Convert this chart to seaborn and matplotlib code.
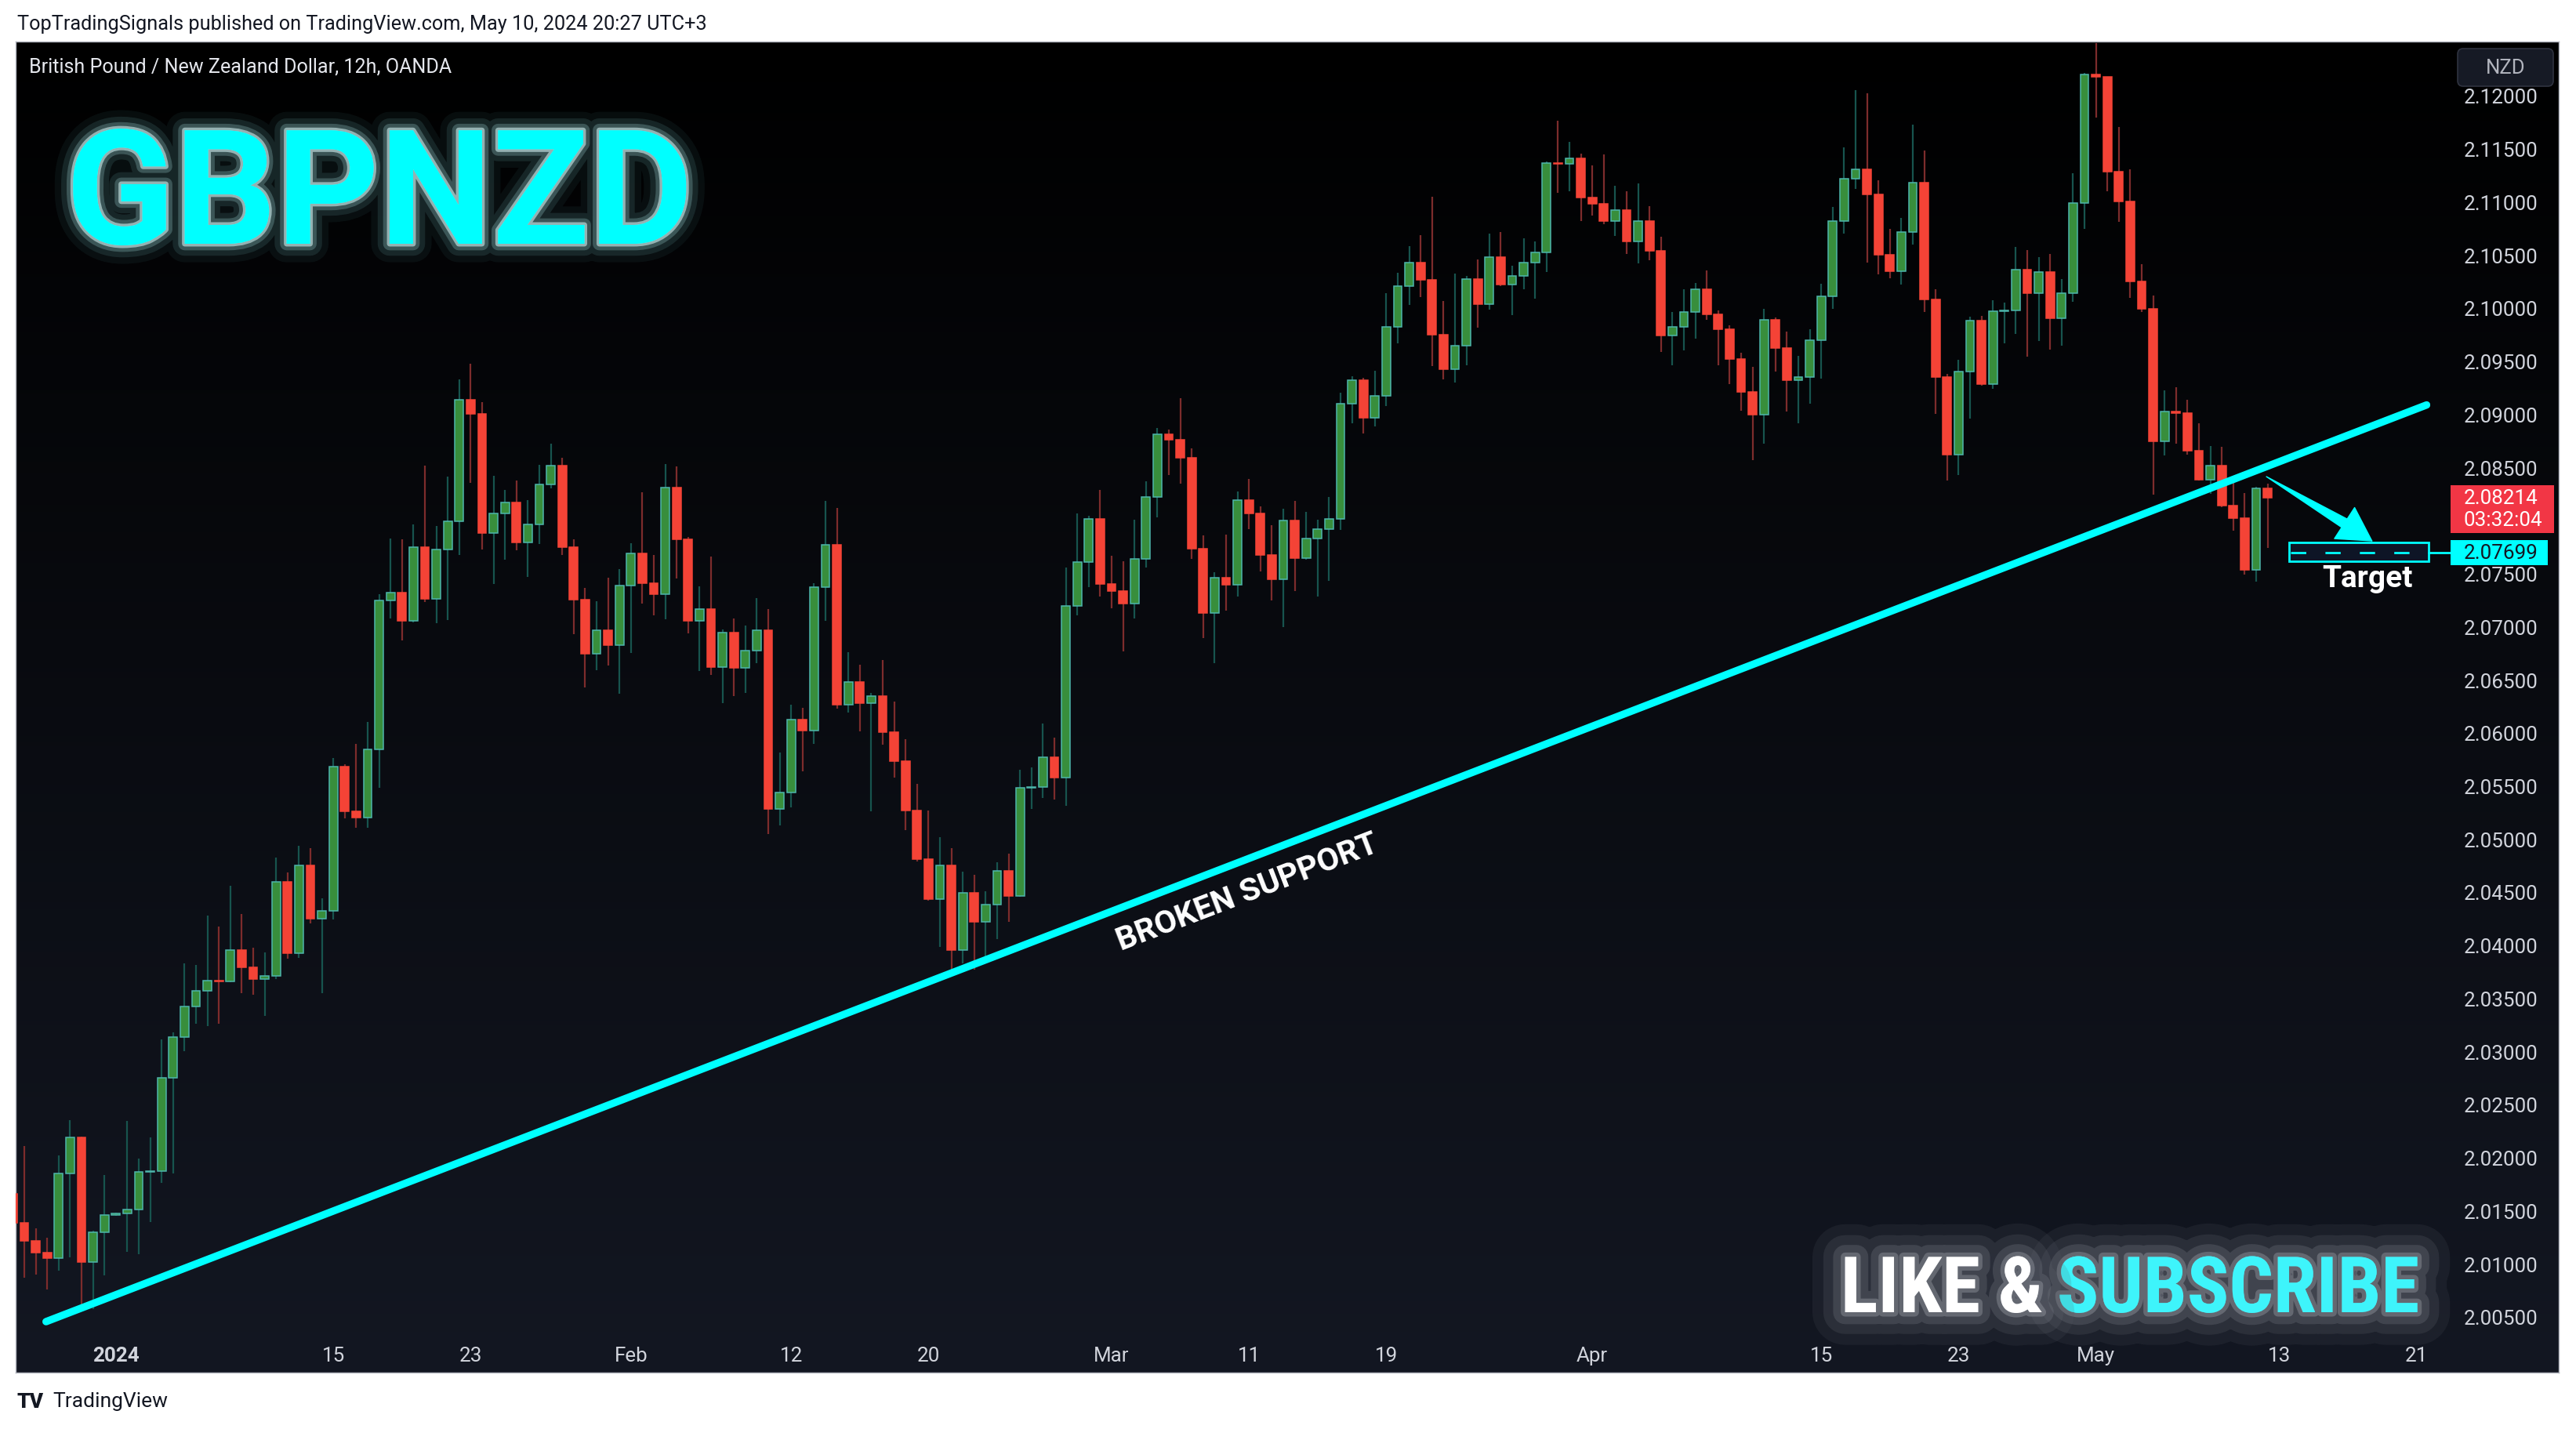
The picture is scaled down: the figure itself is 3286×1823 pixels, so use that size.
import numpy as np
import pandas as pd
import matplotlib
matplotlib.use("Agg")
import matplotlib.pyplot as plt
import matplotlib.transforms as mtransforms
from matplotlib import patheffects as pe
from matplotlib.patches import Rectangle, FancyBboxPatch
from matplotlib import font_manager
import seaborn as sns

# ---------------- data (12h candles, GBPNZD OANDA) ----------------
candle_index = list(range(-1, 197))
opens = [
    2.01659, 2.01381, 2.01212, 2.01104, 2.01049, 2.01849, 2.02188, 2.01015, 2.01297, 2.01459,
    2.01476, 2.01507, 2.01863, 2.01873, 2.02747, 2.03134, 2.03422, 2.03567, 2.03662, 2.03655,
    2.03950, 2.03794, 2.03679, 2.03713, 2.04594, 2.03927, 2.04747, 2.04252, 2.04326, 2.05679,
    2.05263, 2.05204, 2.05842, 2.07249, 2.07322, 2.07057, 2.07751, 2.07263, 2.07723, 2.07995,
    2.09137, 2.09005, 2.07883, 2.08068, 2.08172, 2.07793, 2.07960, 2.08336, 2.08514, 2.07751,
    2.07256, 2.06747, 2.06963, 2.06828, 2.07388, 2.07692, 2.07406, 2.07308, 2.08308, 2.07820,
    2.07054, 2.07168, 2.06615, 2.06941, 2.06609, 2.06770, 2.06963, 2.05285, 2.05434, 2.06127,
    2.06024, 2.07370, 2.07768, 2.06261, 2.06475, 2.06276, 2.06348, 2.06003, 2.05729, 2.05266,
    2.04813, 2.04431, 2.04747, 2.03952, 2.04490, 2.04219, 2.04378, 2.04698, 2.04462, 2.05478,
    2.05487, 2.05767, 2.05574, 2.07192, 2.07611, 2.08012, 2.07403, 2.07332, 2.07218, 2.07635,
    2.08218, 2.08813, 2.08758, 2.08592, 2.07730, 2.07124, 2.07458, 2.07395, 2.08189, 2.08067,
    2.07677, 2.07448, 2.08001, 2.07648, 2.07830, 2.07914, 2.08012, 2.09095, 2.09317, 2.08969,
    2.09169, 2.09820, 2.10204, 2.10425, 2.10268, 2.09751, 2.09426, 2.09647, 2.10270, 2.10034,
    2.10482, 2.10218, 2.10305, 2.10430, 2.10526, 2.11368, 2.11360, 2.11412, 2.11038, 2.10979,
    2.10816, 2.10920, 2.10629, 2.10821, 2.10541, 2.09738, 2.09820, 2.09960, 2.10174, 2.09938,
    2.09798, 2.09517, 2.09207, 2.08992, 2.09892, 2.09620, 2.09317, 2.09353, 2.09693, 2.10108,
    2.10819, 2.11221, 2.11308, 2.11066, 2.10499, 2.10344, 2.10713, 2.11183, 2.10082, 2.09348,
    2.08616, 2.09399, 2.09879, 2.09282, 2.09968, 2.09975, 2.10359, 2.10138, 2.10336, 2.09902,
    2.10136, 2.10985, 2.12196, 2.12180, 2.11285, 2.11000, 2.10247, 2.09993, 2.08745, 2.09027,
    2.09010, 2.08653, 2.08384, 2.08518, 2.08137, 2.08024, 2.07532, 2.08299,
]
highs = [
    2.01720, 2.02110, 2.01331, 2.01246, 2.02019, 2.02351, 2.02195, 2.01307, 2.01832, 2.01480,
    2.02344, 2.01991, 2.02191, 2.03110, 2.03178, 2.03828, 2.03815, 2.04279, 2.04174, 2.04560,
    2.04293, 2.03977, 2.03930, 2.04825, 2.04686, 2.04936, 2.04913, 2.04442, 2.05763, 2.05706,
    2.05894, 2.06103, 2.07308, 2.07831, 2.07820, 2.07963, 2.08517, 2.07946, 2.08413, 2.09329,
    2.09475, 2.09113, 2.08420, 2.08287, 2.08374, 2.08190, 2.08524, 2.08723, 2.08590, 2.07820,
    2.07364, 2.07239, 2.07462, 2.07542, 2.07786, 2.08266, 2.07674, 2.08531, 2.08507, 2.07845,
    2.07379, 2.07659, 2.06969, 2.07078, 2.07009, 2.07267, 2.07165, 2.05813, 2.06264, 2.06236,
    2.07407, 2.08184, 2.08119, 2.06758, 2.06640, 2.06372, 2.06686, 2.06295, 2.05941, 2.05518,
    2.05269, 2.05018, 2.04915, 2.04692, 2.04664, 2.04508, 2.04782, 2.04863, 2.05652, 2.05673,
    2.06087, 2.05953, 2.07556, 2.08065, 2.08041, 2.08286, 2.07667, 2.07614, 2.08007, 2.08368,
    2.08869, 2.08853, 2.09151, 2.08681, 2.07856, 2.07511, 2.07867, 2.08273, 2.08389, 2.08131,
    2.07954, 2.08107, 2.08181, 2.08080, 2.08007, 2.08220, 2.09201, 2.09356, 2.09341, 2.09409,
    2.10140, 2.10332, 2.10583, 2.10686, 2.11048, 2.10066, 2.10324, 2.10302, 2.10457, 2.10701,
    2.10716, 2.10396, 2.10656, 2.10627, 2.11378, 2.11760, 2.11565, 2.11454, 2.11343, 2.11446,
    2.11151, 2.11099, 2.11173, 2.10959, 2.10669, 2.09962, 2.10177, 2.10236, 2.10354, 2.09975,
    2.09837, 2.09578, 2.09444, 2.09991, 2.09910, 2.09777, 2.09548, 2.09800, 2.10227, 2.10952,
    2.11511, 2.12052, 2.12019, 2.11201, 2.10748, 2.10845, 2.11724, 2.11483, 2.10176, 2.09376,
    2.09510, 2.09915, 2.09922, 2.10070, 2.10052, 2.10575, 2.10545, 2.10479, 2.10509, 2.10273,
    2.11269, 2.12213, 2.12509, 2.12180, 2.11701, 2.11306, 2.10412, 2.10117, 2.09227, 2.09254,
    2.09137, 2.08917, 2.08701, 2.08690, 2.08412, 2.08254, 2.08316, 2.08343,
]
lows = [
    2.01360, 2.00866, 2.00900, 2.00755, 2.00931, 2.01059, 2.00568, 2.00575, 2.00890, 2.01450,
    2.01110, 2.01087, 2.01395, 2.01764, 2.01846, 2.02998, 2.03256, 2.03239, 2.03262, 2.03650,
    2.03550, 2.03530, 2.03337, 2.03680, 2.03872, 2.03880, 2.04204, 2.03544, 2.04245, 2.05193,
    2.05103, 2.05103, 2.05479, 2.07075, 2.06873, 2.07040, 2.07228, 2.07030, 2.07064, 2.07674,
    2.08353, 2.07726, 2.07402, 2.07629, 2.07719, 2.07469, 2.07779, 2.08301, 2.07674, 2.06929,
    2.06427, 2.06591, 2.06632, 2.06368, 2.06751, 2.07218, 2.07106, 2.07071, 2.07455, 2.06939,
    2.06584, 2.06546, 2.06279, 2.06344, 2.06376, 2.06655, 2.05046, 2.05130, 2.05294, 2.05636,
    2.05894, 2.07053, 2.06226, 2.06192, 2.06015, 2.05257, 2.05891, 2.05580, 2.05080, 2.04791,
    2.04421, 2.03980, 2.03750, 2.03831, 2.03766, 2.03871, 2.04055, 2.04222, 2.04455, 2.05285,
    2.05388, 2.05373, 2.05313, 2.07108, 2.07374, 2.07284, 2.07171, 2.06768, 2.07079, 2.07559,
    2.08030, 2.08428, 2.08349, 2.07640, 2.06894, 2.06657, 2.07153, 2.07284, 2.07917, 2.07522,
    2.07247, 2.06997, 2.07337, 2.07630, 2.07284, 2.07427, 2.07912, 2.08916, 2.08821, 2.08887,
    2.09077, 2.09667, 2.10029, 2.10103, 2.09455, 2.09328, 2.09298, 2.09463, 2.09817, 2.09987,
    2.10208, 2.09935, 2.10179, 2.10090, 2.10341, 2.11087, 2.11102, 2.10821, 2.10873, 2.10792,
    2.10681, 2.10511, 2.10423, 2.10452, 2.09588, 2.09463, 2.09603, 2.09714, 2.09891, 2.09458,
    2.09286, 2.09035, 2.08570, 2.08722, 2.09404, 2.09027, 2.08916, 2.09101, 2.09337, 2.09993,
    2.10703, 2.11125, 2.10431, 2.10319, 2.10278, 2.10222, 2.10598, 2.09965, 2.09004, 2.08377,
    2.08425, 2.08961, 2.09272, 2.09241, 2.09670, 2.09757, 2.09543, 2.09691, 2.09609, 2.09648,
    2.10062, 2.10746, 2.11794, 2.11100, 2.10808, 2.10096, 2.09959, 2.08240, 2.08615, 2.08725,
    2.08618, 2.08377, 2.08247, 2.08127, 2.07903, 2.07491, 2.07422, 2.07742,
]
closes = [
    2.01381, 2.01212, 2.01104, 2.01049, 2.01849, 2.02188, 2.01015, 2.01297, 2.01459, 2.01476,
    2.01507, 2.01863, 2.01873, 2.02747, 2.03134, 2.03422, 2.03567, 2.03662, 2.03655, 2.03950,
    2.03794, 2.03679, 2.03713, 2.04594, 2.03927, 2.04747, 2.04252, 2.04326, 2.05679, 2.05263,
    2.05204, 2.05842, 2.07249, 2.07322, 2.07057, 2.07751, 2.07263, 2.07723, 2.07995, 2.09137,
    2.09005, 2.07883, 2.08068, 2.08172, 2.07793, 2.07960, 2.08336, 2.08514, 2.07751, 2.07256,
    2.06747, 2.06963, 2.06828, 2.07388, 2.07692, 2.07406, 2.07308, 2.08308, 2.07820, 2.07054,
    2.07168, 2.06615, 2.06941, 2.06609, 2.06770, 2.06963, 2.05285, 2.05434, 2.06127, 2.06024,
    2.07370, 2.07768, 2.06261, 2.06475, 2.06276, 2.06348, 2.06003, 2.05729, 2.05266, 2.04813,
    2.04431, 2.04747, 2.03952, 2.04490, 2.04219, 2.04378, 2.04698, 2.04462, 2.05478, 2.05487,
    2.05767, 2.05574, 2.07192, 2.07611, 2.08012, 2.07403, 2.07332, 2.07218, 2.07635, 2.08218,
    2.08813, 2.08758, 2.08592, 2.07730, 2.07124, 2.07458, 2.07395, 2.08189, 2.08067, 2.07677,
    2.07448, 2.08001, 2.07648, 2.07830, 2.07914, 2.08012, 2.09095, 2.09317, 2.08969, 2.09169,
    2.09820, 2.10204, 2.10425, 2.10268, 2.09751, 2.09426, 2.09647, 2.10270, 2.10034, 2.10482,
    2.10218, 2.10305, 2.10430, 2.10526, 2.11368, 2.11360, 2.11412, 2.11038, 2.10979, 2.10816,
    2.10920, 2.10629, 2.10821, 2.10541, 2.09738, 2.09820, 2.09960, 2.10174, 2.09938, 2.09798,
    2.09517, 2.09207, 2.08992, 2.09892, 2.09620, 2.09317, 2.09353, 2.09693, 2.10108, 2.10819,
    2.11221, 2.11308, 2.11066, 2.10499, 2.10344, 2.10713, 2.11183, 2.10082, 2.09348, 2.08616,
    2.09399, 2.09879, 2.09282, 2.09968, 2.09980, 2.10359, 2.10138, 2.10336, 2.09902, 2.10136,
    2.10985, 2.12196, 2.12180, 2.11285, 2.11000, 2.10247, 2.09993, 2.08745, 2.09027, 2.09010,
    2.08653, 2.08384, 2.08518, 2.08137, 2.08024, 2.07532, 2.08299, 2.08214,
]

price_ticks = [round(2.005 + 0.005 * i, 3) for i in range(24)]
price_tick_labels = [f"{p:.5f}" for p in price_ticks]
time_tick_pos = [8, 27, 39, 53, 67, 79, 95, 107, 119, 137, 157, 169, 181, 197, 209]
time_tick_labels = ["2024", "15", "23", "Feb", "12", "20", "Mar", "11", "19",
                    "Apr", "15", "23", "May", "13", "21"]

support_x = [1.9, 209.9]
support_y = [2.00454, 2.09087]
last_price = 2.08214
countdown = "03:32:04"
target_price = 2.07699
target_box_x = [197.9, 210.1]
target_box_y = [2.07612, 2.07791]
arrow_tail = (195.9, 2.08412)
arrow_neck = (203.0, 2.07955)
arrow_tip = (205.2, 2.07801)

# ---------------- figure ----------------
W, H = 3286, 1824
sns.set_theme(style="dark")
plt.rcParams['font.family'] = ['Roboto', 'DejaVu Sans']
plt.rcParams['lines.scale_dashes'] = False
plt.rcParams['axes.grid'] = False

fig = plt.figure(figsize=(W / 100, H / 100), dpi=100, facecolor='white')
ID = mtransforms.IdentityTransform()
renderer = fig.canvas.get_renderer()


def fx(px):
    return px / W


def fy(py):
    return 1 - py / H


def fit_width(t, target):
    w = t.get_window_extent(renderer).width
    t.set_fontsize(t.get_fontsize() * target / w)


# dark pane with vertical gradient
PL, PR, PT, PB = 20, 3264, 54, 1752
bg = fig.add_axes([fx(PL), fy(PB), (PR - PL) / W, (PB - PT) / H], zorder=0)
tt = np.linspace(0, 1, 512)[:, None, None]
top_c = np.array([0.0, 0.0, 0.0])
bot_c = np.array([0x13, 0x17, 0x22]) / 255
bg.imshow(top_c + (bot_c - top_c) * tt, aspect='auto', extent=[0, 1, 0, 1],
          origin='upper', interpolation='bilinear')
bg.set_xticks([])
bg.set_yticks([])
for s in bg.spines.values():
    s.set_color('#b2b5be')
    s.set_linewidth(1.0)

# main price axes
AX_L, AX_R, AX_T, AX_B = 20, 3100, 56, 1706
ax = fig.add_axes([fx(AX_L), fy(AX_B), (AX_R - AX_L) / W, (AX_B - AX_T) / H], zorder=1)
ax.patch.set_alpha(0)
for s in ax.spines.values():
    s.set_visible(False)

df = pd.DataFrame({"i": candle_index, "o": opens, "h": highs, "l": lows, "c": closes})
df["up"] = df["c"] >= df["o"]
df["hi"] = df[["h", "o", "c"]].max(axis=1)
df["lo"] = df[["l", "o", "c"]].min(axis=1)
df["bot"] = df[["o", "c"]].min(axis=1)
df["ht"] = (df["c"] - df["o"]).abs()

GREEN_FILL, GREEN_EDGE, GREEN_WICK = '#388e3c', '#4db6ac', '#17544e'
RED_FILL, RED_EDGE, RED_WICK = '#f44336', '#f44336', '#7d2c2c'

wick_colors = np.where(df["up"], GREEN_WICK, RED_WICK)
ax.vlines(df["i"], df["lo"], df["hi"], colors=wick_colors, linewidth=1.6, zorder=2)
up = df[df["up"]]
dn = df[~df["up"]]
ax.bar(up["i"], up["ht"], bottom=up["bot"], width=0.74, color=GREEN_FILL,
       edgecolor=GREEN_EDGE, linewidth=1.1, zorder=3)
ax.bar(dn["i"], dn["ht"], bottom=dn["bot"], width=0.74, color=RED_FILL,
       edgecolor=RED_EDGE, linewidth=1.1, zorder=3)

# broken support trend line
sns.lineplot(x=support_x, y=support_y, ax=ax, color='#00ffff', linewidth=6.8,
             solid_capstyle='round', zorder=4, legend=False)

ax.set_xlim(-0.753, 210.21)
ax.set_ylim(2.003141, 2.124944)
ax.set_xlabel('')
ax.set_ylabel('')

# ticks
ax.yaxis.tick_right()
ax.set_yticks(price_ticks)
ax.set_yticklabels(price_tick_labels)
ax.tick_params(axis='y', length=0, pad=31, labelsize=18.7, labelcolor='#d1d4dc')
ax.set_xticks(time_tick_pos)
ax.set_xticklabels(time_tick_labels)
ax.tick_params(axis='x', length=0, pad=9, labelsize=18.7, labelcolor='#d1d4dc')
ax.get_xticklabels()[0].set_fontweight('bold')

# "BROKEN SUPPORT" along the line
p0 = ax.transData.transform((support_x[0], support_y[0]))
p1 = ax.transData.transform((support_x[1], support_y[1]))
ang = np.degrees(np.arctan2(p1[1] - p0[1], p1[0] - p0[0]))
ax.text(106.9, 2.04500, "BROKEN SUPPORT", rotation=ang, rotation_mode='anchor',
        ha='center', va='center', color='white', fontsize=29.5, fontweight='bold', zorder=5)

# arrow to target: tapered shaft + triangular head
ax.annotate('', xy=arrow_tail, xytext=arrow_neck,
            arrowprops=dict(arrowstyle='wedge,tail_width=0.68,shrink_factor=0.5',
                            fc='#00ffff', ec='#00ffff', lw=1.0, shrinkA=0, shrinkB=0,
                            mutation_scale=14),
            annotation_clip=False, zorder=6)
ax.annotate('', xy=arrow_tip, xytext=arrow_neck,
            arrowprops=dict(arrowstyle='-|>,head_length=1.5,head_width=0.85',
                            fc='#00ffff', ec='#00ffff', lw=1.0, shrinkA=0, shrinkB=0,
                            mutation_scale=20),
            annotation_clip=False, zorder=6)

# target box
ax.add_patch(Rectangle((target_box_x[0], target_box_y[0]), target_box_x[1] - target_box_x[0],
                       target_box_y[1] - target_box_y[0], fc='#0e1526', ec='#00ffff',
                       lw=2.0, zorder=6, clip_on=False))
ax.plot([target_box_x[0] + 0.15, target_box_x[1] - 0.1], [target_price] * 2, color='#00ffff',
        lw=2.0, dashes=(14, 17.6), zorder=7, dash_capstyle='butt', clip_on=False)
ax.plot([target_box_x[1], 212.2], [target_price] * 2, color='#00ffff', lw=2.0,
        zorder=7, clip_on=False)
ax.text(204.7, 2.07379, 'Target', ha='center', va='baseline', color='white',
        fontsize=28, fontweight='bold', zorder=7, clip_on=False)

# ---------------- price-axis labels ----------------
y_last = ax.transData.transform((0, last_price))[1]
fig.patches.append(Rectangle((3126, y_last - 45), 132, 61, transform=ID,
                             fc='#f23645', ec='none', zorder=5))
fig.text(3143, y_last, f"{last_price:.5f}", transform=ID, ha='left', va='center',
         fontsize=18.7, color='white', zorder=6)
fig.text(3143, y_last - 28, countdown, transform=ID, ha='left', va='center',
         fontsize=18.7, color='white', zorder=6)

y_tgt = ax.transData.transform((0, target_price))[1]
fig.patches.append(Rectangle((3126, y_tgt - 16), 124, 32, transform=ID,
                             fc='#00ffff', ec='none', zorder=5))
fig.text(3143, y_tgt, f"{target_price:.5f}", transform=ID, ha='left', va='center',
         fontsize=18.7, color='#131722', zorder=6)

# NZD currency button
fig.patches.append(FancyBboxPatch((3135, H - 111), 122, 48, transform=ID,
                                  boxstyle='round,pad=0,rounding_size=7',
                                  fc='#161a25', ec='#2f3340', lw=1.2, zorder=5))
fig.text(3196, H - 87, "NZD", transform=ID, ha='center', va='center',
         fontsize=18.5, color='#b2b5be', zorder=6)

# ---------------- header / footer ----------------
hdr = fig.text(fx(22), fy(31), "TopTradingSignals published on TradingView.com, May 10, 2024 20:27 UTC+3",
               ha='left', va='center', fontsize=16, color='#131722')
fit_width(hdr, 877)
sub = fig.text(fx(37), fy(86), "British Pound / New Zealand Dollar, 12h, OANDA",
               ha='left', va='center', fontsize=16, color='#e6e8ee', zorder=6)
fit_width(sub, 540)
fig.text(fx(21), fy(1789), "TV", ha='left', va='center', fontsize=19,
         fontweight='heavy', color='#131722')
ft = fig.text(fx(67), fy(1788), "TradingView", ha='left', va='center', fontsize=17,
              color='#131722')
fit_width(ft, 147)

# ---------------- big titles ----------------
g = fig.text(fx(84), fy(312), "GBPNZD", ha='left', va='baseline', fontsize=160,
             fontweight='bold', color='#00ffff', zorder=8)
fit_width(g, 800)
g.set_path_effects([
    pe.Stroke(linewidth=34, foreground='#7fffff', alpha=0.05),
    pe.Stroke(linewidth=22, foreground='#9fffff', alpha=0.10),
    pe.Stroke(linewidth=12, foreground='#bfffff', alpha=0.22),
    pe.Stroke(linewidth=5, foreground='#dfffff', alpha=0.55),
    pe.Normal(),
])

ttf = font_manager.fontManager.ttflist
names = {f.name for f in ttf}
cond = dict(family=['Roboto', 'DejaVu Sans'], fontweight='bold')
for cand in ['Liberation Sans Narrow', 'Roboto Condensed', 'Open Sans Condensed',
             'DejaVu Sans Condensed']:
    if cand in names:
        cond = dict(family=[cand, 'DejaVu Sans'], fontweight='bold')
        break
else:
    if any(f.name == 'DejaVu Sans' and f.stretch == 'condensed' for f in ttf):
        cond = dict(family=['DejaVu Sans'], fontweight='bold', fontstretch='condensed')

glow = [
    pe.Stroke(linewidth=60, foreground='#555964', alpha=0.16),
    pe.Stroke(linewidth=40, foreground='#62666f', alpha=0.22),
    pe.Stroke(linewidth=22, foreground='#7a7e88', alpha=0.28),
    pe.Stroke(linewidth=8, foreground='#a8acb5', alpha=0.35),
    pe.Normal(),
]
s2 = fig.text(fx(3086), fy(1675), "SUBSCRIBE", ha='right', va='baseline', fontsize=66,
              color='#3ef4fb', zorder=8, **cond)
fit_width(s2, 462)
s1 = fig.text(fx(2348), fy(1675), "LIKE &", ha='left', va='baseline',
              fontsize=s2.get_fontsize(), color='white', zorder=8, **cond)
s1.set_path_effects(glow)
s2.set_path_effects(glow)

fig.savefig("out.png", dpi=100, facecolor='white')
